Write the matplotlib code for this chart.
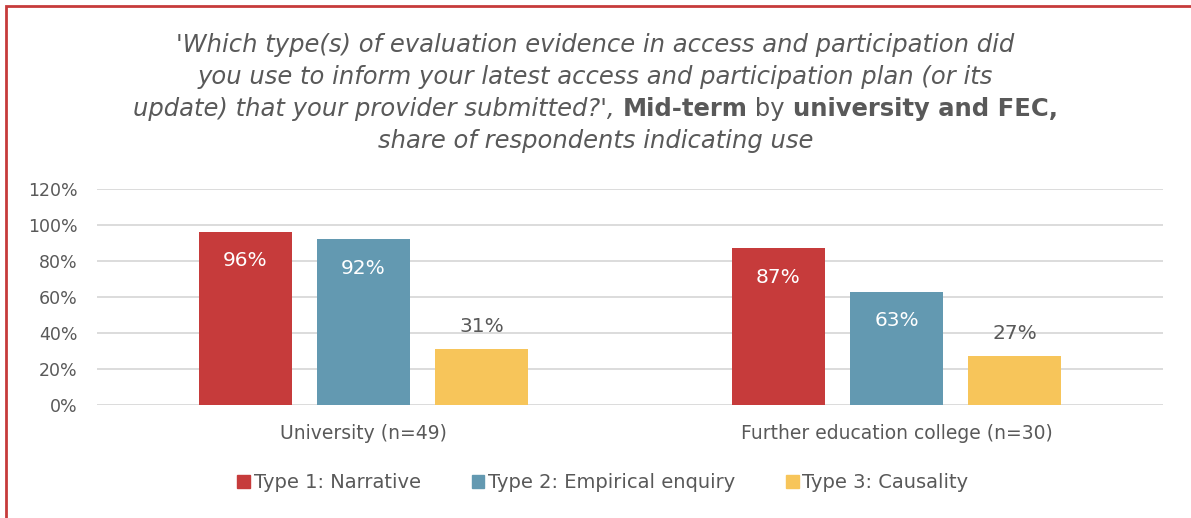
import matplotlib
matplotlib.use("Agg")
import matplotlib.pyplot as plt
import numpy as np
from matplotlib.patches import Rectangle, Patch

categories = ['University (n=49)', 'Further education college (n=30)']
series = ['Type 1: Narrative', 'Type 2: Empirical enquiry', 'Type 3: Causality']
values = [
    [0.96, 0.87],
    [0.92, 0.63],
    [0.31, 0.27],
]
colors = ['#C63B3B', '#6399B1', '#F7C55A']
label_inside = [True, True, False]
yticks = [0, 0.2, 0.4, 0.6, 0.8, 1.0, 1.2]

plt.rcParams['font.family'] = ['DejaVu Sans']
gray = '#595959'

fig = plt.figure(figsize=(11.91, 5.18), dpi=100)
W, H = 1191, 518

ax = fig.add_axes([97 / W, 1 - 405 / H, (1163 - 97) / W, (405 - 189) / H])
x = np.arange(len(categories))
width = 0.1745
step = 0.2214
for i, (name, vals) in enumerate(zip(series, values)):
    pos = x + (i - 1) * step
    ax.bar(pos, vals, width, color=colors[i], label=name, zorder=3)
    for px, v in zip(pos, vals):
        if label_inside[i]:
            ax.text(px, v - 0.16, f'{v:.0%}', ha='center', va='center',
                    color='white', fontsize=14.5)
        else:
            ax.text(px, v + 0.125, f'{v:.0%}', ha='center', va='center',
                    color=gray, fontsize=14.5)

ax.set_xlim(-0.5, 1.5)
ax.set_ylim(0, 1.2)
ax.set_yticks(yticks)
ax.set_yticklabels([f'{t:.0%}' for t in yticks], color=gray, fontsize=12.5)
ax.set_xticks(x)
ax.set_xticklabels(categories, color=gray, fontsize=13.5)
ax.tick_params(length=0)
ax.tick_params(axis='y', pad=14)
ax.tick_params(axis='x', pad=14)
ax.yaxis.grid(True, color='#D9D9D9', linewidth=1.3, zorder=0)
for s in ax.spines.values():
    s.set_visible(False)

# title
lines_y = [45, 77, 109, 141]
fs = 17.5
fig.text(0.5, 1 - lines_y[0] / H, "'Which type(s) of evaluation evidence in access and participation did",
         ha='center', va='center', style='italic', color=gray, fontsize=fs)
fig.text(0.5, 1 - lines_y[1] / H, "you use to inform your latest access and participation plan (or its",
         ha='center', va='center', style='italic', color=gray, fontsize=fs)
fig.text(0.5, 1 - lines_y[3] / H, "share of respondents indicating use",
         ha='center', va='center', style='italic', color=gray, fontsize=fs)

pieces = [
    ("update) that your provider submitted?', ", 'italic', 'normal'),
    ("Mid-term", 'normal', 'bold'),
    (" by ", 'normal', 'normal'),
    ("university and FEC,", 'normal', 'bold'),
]
renderer = fig.canvas.get_renderer()
objs = []
for txt, st, wt in pieces:
    t = fig.text(0, 1 - lines_y[2] / H, txt, ha='left', va='center', style=st,
                 weight=wt, color=gray, fontsize=fs)
    objs.append(t)
widths = [t.get_window_extent(renderer).width for t in objs]
xpos = (W - sum(widths)) / 2
for t, w in zip(objs, widths):
    t.set_x(xpos / W)
    xpos += w

# legend
handles = [Patch(color=c) for c in colors]
fig.legend(handles, series, loc='center', bbox_to_anchor=(603 / W, 1 - 483 / H),
           ncol=3, frameon=False, fontsize=14, handlelength=0.65, handleheight=0.65,
           handletextpad=0.2, columnspacing=2.6, labelcolor=gray)

# frame and cut-off caption above it
fig.patches.append(Rectangle((6 / W, -0.05), 1.2, 1 - 6 / H + 0.05, transform=fig.transFigure,
                             fill=False, edgecolor='#C63B3B', linewidth=2))
fig.text(4 / W, 1 + 4 / H, "Figure 9: Types of evaluation evidence used, by type of provider",
         ha='left', va='baseline', color='#E03030', fontsize=14)

fig.savefig('out.png', dpi=100)
